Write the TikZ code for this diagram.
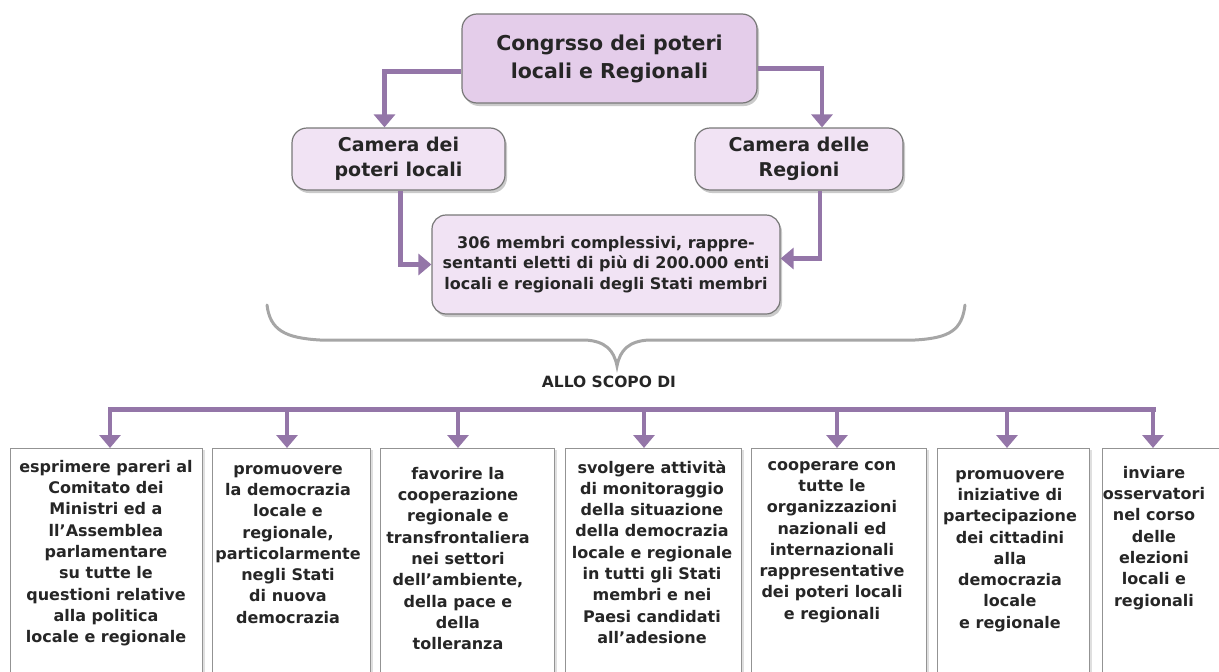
\documentclass[tikz,border=0pt]{standalone}
\usepackage{fontspec}
\setmainfont{DejaVu Sans}
\usetikzlibrary{arrows.meta,shadows}
\definecolor{lilla}{RGB}{228,205,234}
\definecolor{lillachiaro}{RGB}{241,227,244}
\definecolor{viola}{RGB}{148,118,168}
\definecolor{bordo}{RGB}{120,120,120}

\begin{document}
\begin{tikzpicture}[x=1pt,y=-1pt,
  arr/.style={draw=viola, line width=4.5pt, -{Triangle[width=21pt,length=13pt]}},
  ombra/.style={drop shadow={shadow xshift=2pt, shadow yshift=-3pt, opacity=0.35, fill=black!60}},
  testo/.style={inner sep=0pt, align=center, text=black!85, font=\bfseries\fontsize{16}{21.3}\selectfont}]
\useasboundingbox (0,0) rectangle (1219,672);

% parte alta
\begin{scope}[every node/.style={draw=bordo, line width=1.2pt, rounded corners=15pt,
    inner sep=0pt, align=center, text=black!85, ombra}]
  \node[fill=lilla, minimum width=295pt, minimum height=89pt,
    font=\bfseries\fontsize{20.5}{28}\selectfont] (congresso) at (609.5,58.5)
    {Congrsso dei poteri\\locali e Regionali};
  \node[fill=lillachiaro, minimum width=213pt, minimum height=62pt,
    font=\bfseries\fontsize{19}{25.5}\selectfont] (locali) at (398.5,159)
    {Camera dei\\poteri locali};
  \node[fill=lillachiaro, minimum width=208pt, minimum height=62pt,
    font=\bfseries\fontsize{19}{25.5}\selectfont] (regioni) at (799,159)
    {Camera delle\\Regioni};
  \node[fill=lillachiaro, minimum width=348pt, minimum height=99pt, rounded corners=14pt,
    font=\bfseries\fontsize{16}{20.5}\selectfont] (membri) at (606,264.5)
    {306 membri complessivi, rappre-\\sentanti eletti di più di 200.000 enti\\locali e regionali degli Stati membri};
\end{scope}

\draw[arr] ([yshift=-13pt]congresso.west) -| ([xshift=-14pt]locali.north);
\draw[arr] ([yshift=-10pt]congresso.east) -| ([xshift=23pt]regioni.north);
\draw[arr] ([xshift=2pt]locali.south) |- (membri.west);
\draw[arr] ([xshift=21pt]regioni.south) |- ([yshift=6pt]membri.east);

% graffa
\draw[black!35, line width=3pt, line cap=round]
  (267,305) .. controls (270,330) and (285,338) .. (320,340) -- (585,340)
  .. controls (605,341) and (614,350) .. (617,366)
  .. controls (620,350) and (629,341) .. (649,340) -- (915,340)
  .. controls (950,338) and (962,330) .. (965,305);
\node[inner sep=0pt, text=black!85, font=\bfseries\fontsize{15.5}{17}\selectfont] (scopo) at (609,382) {ALLO SCOPO DI};

% caselle
\begin{scope}[every node/.style={draw=bordo!80, line width=1.3pt, fill=white, anchor=north west,
    minimum height=250pt, inner sep=0pt,
    drop shadow={shadow xshift=2pt, shadow yshift=-1pt, opacity=0.25, fill=black!50}}]
  \node[minimum width=192pt] (b1) at (10,448) {};
  \node[minimum width=158pt] (b2) at (212,448) {};
  \node[minimum width=174pt] (b3) at (380,448) {};
  \node[minimum width=176pt] (b4) at (565,448) {};
  \node[minimum width=175pt] (b5) at (751,448) {};
  \node[minimum width=152pt] (b6) at (937,448) {};
  \node[minimum width=140pt] (b7) at (1102,448) {};
\end{scope}

\coordinate (a1) at (110,409);
\coordinate (a2) at (287,409);
\coordinate (a3) at (458,409);
\coordinate (a4) at (644,409);
\coordinate (a5) at (837,409);
\coordinate (a6) at (1007,409);
\coordinate (a7) at (1153,409);
\draw[viola, line width=5pt, line cap=rect] (a1) -- (a7);
\draw[arr] (a1) -- (a1 |- b1.north);
\draw[arr] (a2) -- (a2 |- b2.north);
\draw[arr] (a3) -- (a3 |- b3.north);
\draw[arr] (a4) -- (a4 |- b4.north);
\draw[arr] (a5) -- (a5 |- b5.north);
\draw[arr] (a6) -- (a6 |- b6.north);
\draw[arr] (a7) -- (a7 |- b7.north);

\begin{scope}[every node/.style={testo, anchor=north}]
  \node (t1) at (106,460) {esprimere pareri al\\Comitato dei\\Ministri ed a\\ll’Assemblea\\parlamentare\\su tutte le\\questioni relative\\alla politica\\locale e regionale};
  \node (t2) at (288,465) {promuovere\\la democrazia\\locale e\\regionale,\\particolarmente\\negli Stati\\di nuova\\democrazia};
  \node (t3) at (458,467) {favorire la\\cooperazione\\regionale e\\transfrontaliera\\nei settori\\dell’ambiente,\\della pace e\\della\\tolleranza};
  \node (t4) at (652,460) {svolgere attività\\di monitoraggio\\della situazione\\della democrazia\\locale e regionale\\in tutti gli Stati\\membri e nei\\Paesi candidati\\all’adesione};
  \node (t5) at (832,461) {cooperare con\\tutte le\\organizzazioni\\nazionali ed\\internazionali\\rappresentative\\dei poteri locali\\e regionali};
  \node (t6) at (1010,470) {promuovere\\iniziative di\\partecipazione\\dei cittadini\\alla\\democrazia\\locale\\e regionale};
  \node (t7) at (1154,466) {inviare\\osservatori\\nel corso\\delle\\elezioni\\locali e\\regionali};
\end{scope}
\end{tikzpicture}
\end{document}
